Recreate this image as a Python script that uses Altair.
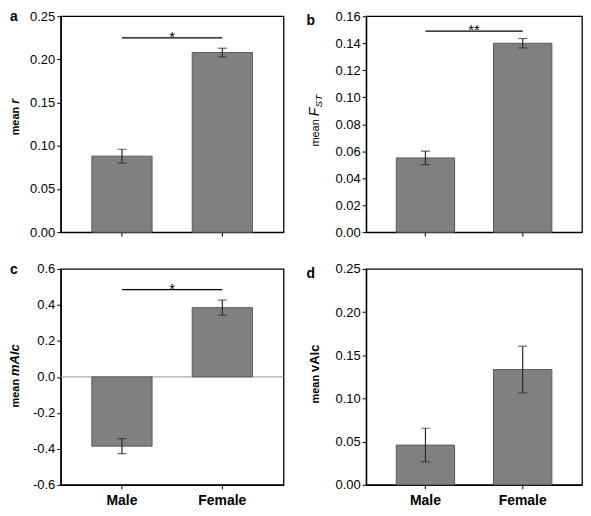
import altair as alt
import pandas as pd

# ---------------- data ----------------
categories = ["Male", "Female"]

r_mean = [0.088, 0.208]
r_err = [0.008, 0.005]

fst_mean = [0.055, 0.140]
fst_err = [0.005, 0.0035]

malc_mean = [-0.385, 0.385]
malc_err = [0.042, 0.042]

valc_mean = [0.046, 0.1335]
valc_err = [0.0195, 0.027]

ticks_a = [0.00, 0.05, 0.10, 0.15, 0.20, 0.25]
ticks_b = [0.00, 0.02, 0.04, 0.06, 0.08, 0.10, 0.12, 0.14, 0.16]
ticks_c = [-0.6, -0.4, -0.2, 0.0, 0.2, 0.4, 0.6]
ticks_d = [0.00, 0.05, 0.10, 0.15, 0.20, 0.25]

sig_a = [0.225]
sig_b = [0.149]
sig_c = [0.485]
sig_labels = ["*", "**", "*"]

FONT = "Liberation Sans"
BAR_FILL = "#808080"
BAR_STROKE = "#5a5a5a"
ERR_COLOR = "#2b2b2b"


def panel(letter, means, errs, ticks, fmt, title_parts, sig_y, sig_text,
          show_labels, w, h, letter_x, letter_y, zero_line=False):
    df = pd.DataFrame({
        "cat": categories,
        "mean": means,
        "lo": [m - e for m, e in zip(means, errs)],
        "hi": [m + e for m, e in zip(means, errs)],
    })
    xscale = alt.Scale(domain=categories, paddingInner=0.4, paddingOuter=0.31)
    yscale = alt.Scale(domain=[ticks[0], ticks[-1]], nice=False, zero=False)
    label_expr = "replace(format(datum.value, '%s'), '\u2212', '-')" % fmt
    yaxis = alt.Axis(values=ticks, labelExpr=label_expr, title=None,
                     tickSize=4, labelPadding=2, labelFontSize=13,
                     labelOverlap=False, grid=False)
    if show_labels:
        xaxis = alt.Axis(title=None, tickSize=4, labelAngle=0,
                         labelFontSize=14, labelFontWeight="bold",
                         labelPadding=5, grid=False)
    else:
        xaxis = alt.Axis(title=None, tickSize=4, labels=False, grid=False)

    xn = alt.X("cat:N", scale=xscale, axis=xaxis)

    base = alt.Chart(df)
    bars = base.mark_bar(color=BAR_FILL, stroke=BAR_STROKE, strokeWidth=1).encode(
        x=xn,
        y=alt.Y("mean:Q", scale=yscale, axis=yaxis),
    )
    err = base.mark_rule(color=ERR_COLOR, strokeWidth=1.2).encode(
        x=xn, y=alt.Y("lo:Q", scale=yscale, axis=yaxis), y2="hi:Q")
    cap_lo = base.mark_tick(color=ERR_COLOR, size=9, thickness=1.2).encode(
        x=xn, y=alt.Y("lo:Q", scale=yscale, axis=yaxis))
    cap_hi = base.mark_tick(color=ERR_COLOR, size=9, thickness=1.2).encode(
        x=xn, y=alt.Y("hi:Q", scale=yscale, axis=yaxis))

    layers = []
    if zero_line:
        layers.append(alt.Chart(pd.DataFrame({"z": [0.0]})).mark_rule(
            color="#9a9a9a", strokeWidth=1).encode(
            y=alt.Y("z:Q", scale=yscale, axis=yaxis)))
    layers += [bars, err, cap_lo, cap_hi]

    if sig_y is not None:
        sdf = pd.DataFrame({"cat": [categories[0]], "cat2": [categories[1]],
                            "y": sig_y})
        sig_rule = alt.Chart(sdf).mark_rule(color="black", strokeWidth=1.2).encode(
            x=xn, x2="cat2:N", y=alt.Y("y:Q", scale=yscale, axis=yaxis))
        layers.append(sig_rule)

    inner = alt.layer(*layers)

    outer = [inner]
    if sig_y is not None:
        stdf = pd.DataFrame({"pos": [0.5], "y": sig_y, "t": [sig_text]})
        star = alt.Chart(stdf).mark_text(font=FONT, fontSize=15, color="black",
                                         baseline="alphabetic", dy=4).encode(
            x=alt.X("pos:Q", scale=alt.Scale(domain=[0, 1]), axis=None),
            y=alt.Y("y:Q", scale=yscale, axis=yaxis),
            text="t:N")
        outer.append(star)

    # panel letter
    outer.append(alt.Chart(pd.DataFrame({"t": [letter]})).mark_text(
        font=FONT, fontSize=14, fontWeight="bold", align="left",
        baseline="alphabetic", color="black").encode(
        text="t:N", x=alt.value(letter_x), y=alt.value(letter_y)))

    # y title made of styled parts
    for (txt, size, weight, style, px, py, align) in title_parts:
        outer.append(alt.Chart(pd.DataFrame({"t": [txt]})).mark_text(
            font=FONT, fontSize=size, fontWeight=weight, fontStyle=style,
            align=align, baseline="alphabetic", angle=270, color="black").encode(
            text="t:N", x=alt.value(px), y=alt.value(py)))

    return alt.layer(*outer).resolve_scale(x="independent").properties(
        width=w, height=h)


H = 217
WL = 224
WR = 217

# title anchors (pixel offsets relative to the plot area)
ta = [("mean", 11, "bold", "normal", -42, 91.0, "right"),
      ("r", 13, "bold", "italic", -42, 88.0, "left")]
tb = [("mean", 11, "normal", "normal", -47, 103.5, "right"),
      ("F", 14, "normal", "italic", -47, 100.5, "left"),
      ("ST", 10, "normal", "italic", -44, 91.6, "left")]
tc = [("mean", 11, "bold", "normal", -42, 110.5, "right"),
      ("mAlc", 13, "bold", "italic", -42, 107.5, "left")]
td = [("mean", 11, "bold", "normal", -47, 106.5, "right"),
      ("vAlc", 13, "bold", "normal", -47, 103.5, "left")]

pa = panel("a", r_mean, r_err, ticks_a, ".2f", ta, sig_a, sig_labels[0],
           False, WL, H, -51, 5)
pb = panel("b", fst_mean, fst_err, ticks_b, ".2f", tb, sig_b, sig_labels[1],
           False, WR, H, -60, 9)
pc = panel("c", malc_mean, malc_err, ticks_c, ".1f", tc, sig_c, sig_labels[2],
           True, WL, H, -51, 5, zero_line=True)
pd_ = panel("d", valc_mean, valc_err, ticks_d, ".2f", td, None, None,
            True, WR, H, -60, 9)

chart = alt.concat(pa, pb, pc, pd_, columns=2,
                   spacing={"row": 22, "column": 20}).properties(
    padding=0, background="white"
).configure_view(
    stroke="black", strokeWidth=1.3
).configure_axis(
    domainColor="black", domainWidth=1.3, tickColor="black", tickWidth=1,
    labelColor="black", labelFont=FONT, grid=False
)

chart.save("out.html", embed_options={"renderer": "svg", "actions": False})
